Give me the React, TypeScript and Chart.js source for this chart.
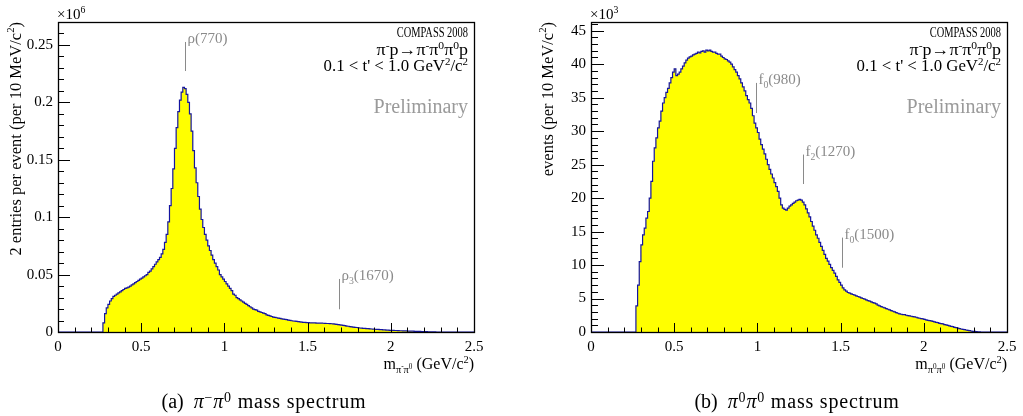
import React, { useEffect, useRef } from "react";
import { Chart, registerables } from "chart.js";

Chart.register(...registerables);

const FONT = "'Liberation Serif', 'Times New Roman', serif";
const BIN_WIDTH = 0.01; // GeV/c^2 per bin

// (a) pi- pi0 spectrum: bins from 0.27 GeV/c^2, entries x10^6
const chargedStart = 0.27;
const chargedCounts = [
  0.008, 0.016, 0.021, 0.024, 0.027, 0.029, 0.031, 0.032, 0.033, 0.034,
  0.035, 0.036, 0.037, 0.038, 0.0385, 0.039, 0.04, 0.041, 0.042, 0.043,
  0.044, 0.045, 0.046, 0.047, 0.048, 0.049, 0.05, 0.052, 0.053, 0.055,
  0.057, 0.059, 0.061, 0.063, 0.065, 0.068, 0.072, 0.078, 0.085, 0.096,
  0.11, 0.125, 0.142, 0.16, 0.178, 0.192, 0.202, 0.209, 0.213, 0.212,
  0.207, 0.2, 0.19, 0.175, 0.158, 0.143, 0.13, 0.118, 0.107, 0.098,
  0.091, 0.085, 0.08, 0.075, 0.071, 0.067, 0.063, 0.06, 0.057, 0.054,
  0.05, 0.048, 0.046, 0.044, 0.042, 0.04, 0.038, 0.036, 0.033, 0.032,
  0.03, 0.029, 0.028, 0.027, 0.026, 0.025, 0.024, 0.023, 0.022, 0.021,
  0.02, 0.0195, 0.019, 0.018, 0.0175, 0.017, 0.0165, 0.016, 0.015, 0.0145,
  0.014, 0.0135, 0.013, 0.0127, 0.0124, 0.0121, 0.0118, 0.0115, 0.0112, 0.011,
  0.0107, 0.0104, 0.0101, 0.0098, 0.0096, 0.0094, 0.0092, 0.009, 0.0088, 0.0086,
  0.0084, 0.0083, 0.0082, 0.0081, 0.008, 0.008, 0.0079, 0.0079, 0.0078, 0.0078,
  0.0077, 0.0077, 0.0076, 0.0075, 0.0074, 0.0074, 0.0073, 0.0072, 0.0071, 0.0069,
  0.0067, 0.0065, 0.0062, 0.006, 0.0057, 0.0055, 0.0052, 0.005, 0.0047, 0.0045,
  0.0043, 0.0041, 0.0039, 0.0037, 0.0035, 0.0034, 0.0032, 0.0031, 0.003, 0.0029,
  0.0027, 0.0026, 0.0025, 0.0024, 0.0023, 0.0022, 0.0021, 0.002, 0.0019, 0.0018,
  0.0017, 0.0016, 0.0015, 0.0015, 0.0014, 0.0013, 0.0013, 0.0012, 0.0011, 0.0011,
  0.001, 0.0009, 0.0009, 0.0008, 0.0008, 0.0007, 0.0007, 0.0006, 0.0006, 0.0005,
  0.0005, 0.0004, 0.0004, 0.0003, 0.0003, 0.0002, 0.0002, 0.0001, 0.0001, 0.0001,
];

// (b) pi0 pi0 spectrum: bins from 0.27 GeV/c^2, events x10^3
const neutralStart = 0.27;
const neutralCounts = [
  3.9, 7.0, 10.5, 13.0, 14.5, 15.5, 17.0, 18.0, 20.0, 22.5,
  25.5, 27.5, 29.0, 30.5, 31.5, 33.0, 34.2, 35.0, 35.8, 36.4,
  37.2, 38.0, 38.8, 39.3, 38.3, 38.5, 38.8, 39.3, 39.7, 40.2,
  40.6, 40.9, 41.1, 41.2, 41.4, 41.5, 41.6, 41.8, 41.7, 41.9,
  42.0, 41.8, 42.1, 42.0, 42.1, 41.9, 41.8, 41.8, 41.6, 41.5,
  41.5, 41.2, 41.0, 40.8, 40.7, 40.5, 40.3, 40.0, 39.6, 39.2,
  38.8, 38.3, 37.8, 37.2, 36.6, 36.0, 35.3, 34.7, 34.2, 33.4,
  32.3, 31.2, 30.5, 29.8, 28.8, 28.0, 27.3, 26.6, 25.8, 25.0,
  24.3, 23.6, 23.0, 22.3, 21.7, 21.0, 20.0, 19.0, 18.5, 18.3,
  18.2, 18.5, 18.8, 19.0, 19.2, 19.4, 19.6, 19.7, 19.8, 19.7,
  19.4, 19.0, 18.4, 17.8, 17.2, 16.5, 15.8, 15.2, 14.5, 14.0,
  13.4, 12.8, 12.2, 11.6, 11.0, 10.6, 10.1, 9.6, 9.2, 8.8,
  8.3, 7.8, 7.4, 7.0, 6.6, 6.3, 6.1, 5.9, 5.8, 5.7,
  5.6, 5.5, 5.4, 5.3, 5.2, 5.1, 5.0, 4.9, 4.8, 4.7,
  4.6, 4.5, 4.4, 4.3, 4.2, 4.0, 3.9, 3.8, 3.7, 3.6,
  3.5, 3.4, 3.3, 3.2, 3.1, 3.0, 2.9, 2.8, 2.7, 2.65,
  2.6, 2.6, 2.5, 2.45, 2.4, 2.35, 2.3, 2.25, 2.2, 2.1,
  2.05, 2.0, 1.95, 1.9, 1.8, 1.75, 1.7, 1.65, 1.6, 1.5,
  1.45, 1.4, 1.3, 1.25, 1.2, 1.1, 1.05, 1.0, 0.9, 0.85,
  0.8, 0.7, 0.65, 0.6, 0.5, 0.45, 0.4, 0.35, 0.3, 0.25,
  0.2, 0.15, 0.1, 0.08, 0.05, 0.03, 0.01,
];

const xMajorTicks = [0, 0.5, 1, 1.5, 2, 2.5];
const xTickLabels = ["0", "0.5", "1", "1.5", "2", "2.5"];
const chargedYMajor = [0, 0.05, 0.1, 0.15, 0.2, 0.25];
const chargedYLabels = ["0", "0.05", "0.1", "0.15", "0.2", "0.25"];
const neutralYMajor = [0, 5, 10, 15, 20, 25, 30, 35, 40, 45];
const neutralYLabels = ["0", "5", "10", "15", "20", "25", "30", "35", "40", "45"];

type Seg = { t: string; k?: number; dy?: number; it?: boolean };

const SUP = (t: string): Seg => ({ t, k: 0.65, dy: -0.4 });
const SUB = (t: string): Seg => ({ t, k: 0.65, dy: 0.28 });
const SUBSUP = (t: string): Seg => ({ t, k: 0.45, dy: 0.02 });

function drawRich(
  ctx: CanvasRenderingContext2D,
  segs: Seg[],
  x: number,
  y: number,
  size: number,
  color: string,
  align: "left" | "right" | "center",
  sx = 1
) {
  const fontFor = (s: Seg) => `${s.it ? "italic " : ""}${size * (s.k ?? 1)}px ${FONT}`;
  let total = 0;
  for (const s of segs) {
    ctx.font = fontFor(s);
    total += ctx.measureText(s.t).width;
  }
  ctx.save();
  ctx.translate(x, y);
  ctx.scale(sx, 1);
  let cx = align === "left" ? 0 : align === "right" ? -total : -total / 2;
  ctx.fillStyle = color;
  ctx.textAlign = "left";
  ctx.textBaseline = "alphabetic";
  for (const s of segs) {
    ctx.font = fontFor(s);
    ctx.fillText(s.t, cx, (s.dy ?? 0) * size);
    cx += ctx.measureText(s.t).width;
  }
  ctx.restore();
}

type Ann = { m: number; yTop: number; yBot: number; label: Seg[] };

type PanelCfg = {
  left: number;
  width: number;
  start: number;
  counts: number[];
  yMax: number;
  yMinorStep: number;
  yMajor: number[];
  yLabels: string[];
  yMajorLen: number;
  yMinorLen: number;
  yAxisWidth: number;
  padRight: number;
  exponent: string;
  yTitle: Seg[];
  yTitleX: number;
  xTitle: Seg[];
  anns: Ann[];
};

const reaction: Seg[] = [
  { t: "π" }, SUP("-"), { t: "p→π" }, SUP("-"), { t: "π" }, SUP("0"), { t: "π" }, SUP("0"), { t: "p" },
];
const tRange: Seg[] = [{ t: "0.1 < t' < 1.0 GeV" }, SUP("2"), { t: "/c" }, SUP("2")];

const panels: PanelCfg[] = [
  {
    left: 0,
    width: 511,
    start: chargedStart,
    counts: chargedCounts,
    yMax: 0.27,
    yMinorStep: 0.01,
    yMajor: chargedYMajor,
    yLabels: chargedYLabels,
    yMajorLen: 12,
    yMinorLen: 6,
    yAxisWidth: 58,
    padRight: 37,
    exponent: "6",
    yTitle: [{ t: "2 entries per event (per 10 MeV/c" }, SUP("2"), { t: ")" }],
    yTitleX: 21,
    xTitle: [{ t: "m" }, SUB("π"), SUBSUP("-"), SUB("π"), SUBSUP("0"), { t: " (GeV/c" }, SUP("2"), { t: ")" }],
    anns: [
      { m: 0.763, yTop: 0.2526, yBot: 0.2273, label: [{ t: "ρ(770)" }] },
      { m: 1.689, yTop: 0.0462, yBot: 0.0198, label: [{ t: "ρ" }, SUB("3"), { t: "(1670)" }] },
    ],
  },
  {
    left: 511,
    width: 512,
    start: neutralStart,
    counts: neutralCounts,
    yMax: 46.3,
    yMinorStep: 1,
    yMajor: neutralYMajor,
    yLabels: neutralYLabels,
    yMajorLen: 13,
    yMinorLen: 7,
    yAxisWidth: 80,
    padRight: 16,
    exponent: "3",
    yTitle: [{ t: "events (per 10 MeV/c" }, SUP("2"), { t: ")" }],
    yTitleX: 553 - 511,
    xTitle: [{ t: "m" }, SUB("π"), SUBSUP("0"), SUB("π"), SUBSUP("0"), { t: " (GeV/c" }, SUP("2"), { t: ")" }],
    anns: [
      { m: 0.99, yTop: 37.2, yBot: 32.7, label: [{ t: "f" }, SUB("0"), { t: "(980)" }] },
      { m: 1.272, yTop: 26.5, yBot: 22.1, label: [{ t: "f" }, SUB("2"), { t: "(1270)" }] },
      { m: 1.507, yTop: 14.1, yBot: 9.6, label: [{ t: "f" }, SUB("0"), { t: "(1500)" }] },
    ],
  },
];

function near(v: number, arr: number[]): number {
  for (let i = 0; i < arr.length; i++) if (Math.abs(v - arr[i]) < 1e-6) return i;
  return -1;
}

function stepValues(max: number, step: number): number[] {
  const out: number[] = [];
  const n = Math.floor(max / step + 1e-6);
  for (let i = 0; i <= n; i++) out.push(+(i * step).toFixed(4));
  return out;
}

function Panel({ cfg }: { cfg: PanelCfg }) {
  const ref = useRef<HTMLCanvasElement>(null);
  useEffect(() => {
    const canvas = ref.current!;
    const pts: { x: number; y: number }[] = [{ x: 0, y: 0 }];
    cfg.counts.forEach((c, i) => pts.push({ x: +(cfg.start + i * BIN_WIDTH).toFixed(3), y: c }));
    pts.push({ x: +(cfg.start + cfg.counts.length * BIN_WIDTH).toFixed(3), y: 0 });
    pts.push({ x: 2.5, y: 0 });

    const xAll = stepValues(2.5, 0.1);
    const yAll = stepValues(cfg.yMax, cfg.yMinorStep);

    const decor = {
      id: "decor",
      afterDatasetsDraw(chart: any) {
        const ctx: CanvasRenderingContext2D = chart.ctx;
        const { left, right, top, bottom } = chart.chartArea;
        const xs = chart.scales.x;
        const ys = chart.scales.y;
        ctx.save();
        // annotations
        ctx.strokeStyle = "#8a8a8a";
        ctx.lineWidth = 1;
        for (const a of cfg.anns) {
          const px = Math.round(xs.getPixelForValue(a.m)) + 0.5;
          const y1 = ys.getPixelForValue(a.yTop);
          const y2 = ys.getPixelForValue(a.yBot);
          ctx.beginPath();
          ctx.moveTo(px, y1);
          ctx.lineTo(px, y2);
          ctx.stroke();
          drawRich(ctx, a.label, px + 2, y1 + 1, 15, "#8a8a8a", "left");
        }
        // frame
        ctx.strokeStyle = "#000";
        ctx.lineWidth = 1.3;
        ctx.strokeRect(left + 0.5, top + 0.5, right - left, bottom - top);
        // x ticks
        ctx.lineWidth = 1;
        for (const v of xAll) {
          const px = Math.round(xs.getPixelForValue(v)) + 0.5;
          const len = near(v, xMajorTicks) >= 0 ? 9 : 4.5;
          ctx.beginPath();
          ctx.moveTo(px, bottom);
          ctx.lineTo(px, bottom - len);
          ctx.stroke();
        }
        for (const v of yAll) {
          const py = Math.round(ys.getPixelForValue(v)) + 0.5;
          const len = near(v, cfg.yMajor) >= 0 ? cfg.yMajorLen : cfg.yMinorLen;
          ctx.beginPath();
          ctx.moveTo(left, py);
          ctx.lineTo(left + len, py);
          ctx.stroke();
        }
        // exponent
        drawRich(ctx, [{ t: "×10" }, SUP(cfg.exponent)], left - 1, 19, 15, "#000", "left");
        // y title
        ctx.save();
        ctx.translate(cfg.yTitleX, top);
        ctx.rotate(-Math.PI / 2);
        drawRich(ctx, cfg.yTitle, 0, 0, 16.5, "#000", "right");
        ctx.restore();
        // x title
        drawRich(ctx, cfg.xTitle, right, 369, 16, "#000", "right");
        // info block
        const xr = right - 6;
        drawRich(ctx, [{ t: "COMPASS 2008" }], xr, 37, 14.5, "#000", "right", 0.72);
        drawRich(ctx, reaction, xr, 55, 16, "#000", "right", 1.12);
        drawRich(ctx, tRange, xr, 71, 16, "#000", "right", 1.05);
        drawRich(ctx, [{ t: "Preliminary" }], xr, 113, 20, "#9a9a9a", "right");
        ctx.restore();
      },
    };

    const chart = new Chart(canvas, {
      type: "line",
      data: {
        datasets: [
          {
            data: pts,
            stepped: "before",
            fill: "origin",
            backgroundColor: "#ffff00",
            borderColor: "#1414a0",
            borderWidth: 1.2,
            pointRadius: 0,
          },
        ],
      },
      options: {
        animation: false,
        responsive: false,
        devicePixelRatio: 1,
        layout: { padding: { left: 0, right: cfg.padRight, top: 22, bottom: 54 } },
        plugins: { legend: { display: false }, tooltip: { enabled: false }, title: { display: false } },
        scales: {
          x: {
            type: "linear",
            min: 0,
            max: 2.5,
            grid: { display: false, drawTicks: false },
            border: { display: false },
            afterBuildTicks: (s: any) => {
              s.ticks = xAll.map((v) => ({ value: v }));
            },
            afterFit: (s: any) => {
              s.height = 30;
            },
            ticks: {
              autoSkip: false,
              maxRotation: 0,
              padding: 6,
              color: "#000",
              font: { family: FONT, size: 15 },
              callback: (v: any) => {
                const i = near(Number(v), xMajorTicks);
                return i >= 0 ? xTickLabels[i] : "";
              },
            },
          },
          y: {
            type: "linear",
            min: 0,
            max: cfg.yMax,
            grid: { display: false, drawTicks: false },
            border: { display: false },
            afterBuildTicks: (s: any) => {
              s.ticks = yAll.map((v) => ({ value: v }));
            },
            afterFit: (s: any) => {
              s.width = cfg.yAxisWidth;
            },
            ticks: {
              autoSkip: false,
              padding: 5,
              color: "#000",
              font: { family: FONT, size: 15 },
              callback: (v: any) => {
                const i = near(Number(v), cfg.yMajor);
                return i >= 0 ? cfg.yLabels[i] : "";
              },
            },
          },
        },
      } as any,
      plugins: [decor],
    });
    return () => chart.destroy();
  }, [cfg]);
  return (
    <canvas
      ref={ref}
      width={cfg.width}
      height={416}
      style={{ position: "absolute", left: cfg.left, top: 0, width: cfg.width, height: 416 }}
    />
  );
}

const supStyle: React.CSSProperties = { fontSize: "70%", position: "relative", top: "-0.45em", lineHeight: 0 };

function Caption({ cx, tag, children }: { cx: number; tag: string; children: React.ReactNode }) {
  return (
    <div
      style={{
        position: "absolute",
        left: cx - 200,
        width: 400,
        top: 390,
        textAlign: "center",
        fontFamily: FONT,
        fontSize: 20,
        lineHeight: "22px",
        color: "#000",
        whiteSpace: "pre",
      }}
    >
      <span>{tag}</span>
      <span style={{ letterSpacing: "0.8px" }}>{children}</span>
    </div>
  );
}

export default function App() {
  return (
    <div style={{ position: "absolute", left: 0, top: 0, width: 1023, height: 416, background: "#fff", overflow: "hidden" }}>
      <Panel cfg={panels[0]} />
      <Panel cfg={panels[1]} />
      <Caption cx={264} tag="(a)  ">
        <i>π</i>
        <span style={supStyle}>−</span>
        <i>π</i>
        <span style={supStyle}>0</span>
        {" mass spectrum"}
      </Caption>
      <Caption cx={797} tag="(b)  ">
        <i>π</i>
        <span style={supStyle}>0</span>
        <i>π</i>
        <span style={supStyle}>0</span>
        {" mass spectrum"}
      </Caption>
    </div>
  );
}
